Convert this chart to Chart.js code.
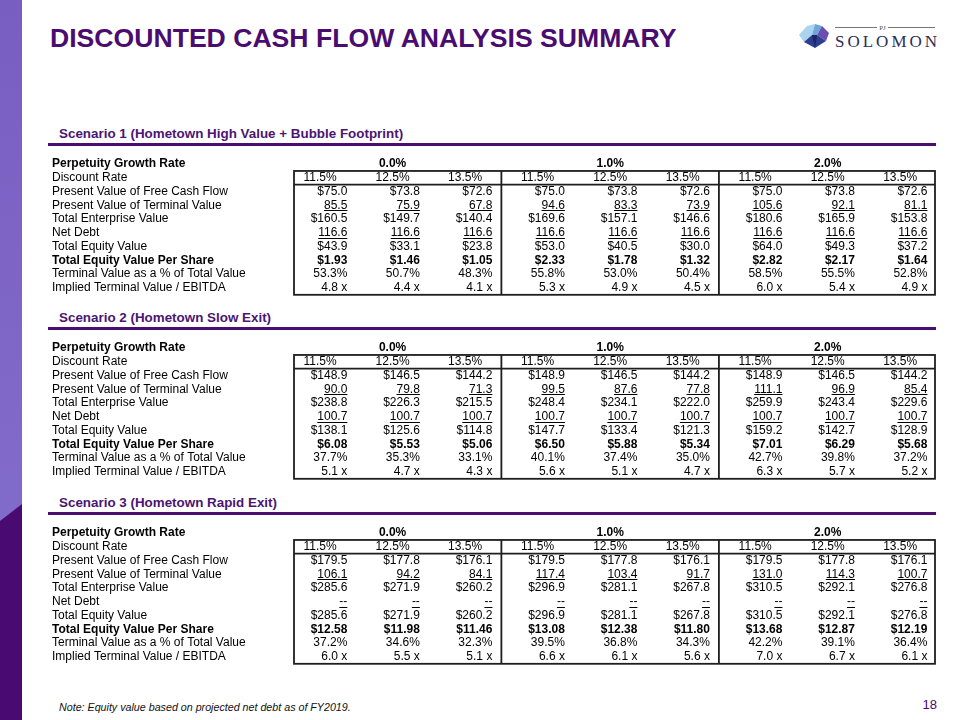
<!DOCTYPE html>
<html>
<head>
<meta charset="utf-8">
<title>Discounted Cash Flow Analysis Summary</title>
<script src="https://cdn.jsdelivr.net/npm/chart.js@4.4.1/dist/chart.umd.min.js"></script>
<style>
  html, body { margin: 0; padding: 0; background: #fff; }
  body { width: 960px; height: 720px; position: relative; overflow: hidden;
         font-family: "Liberation Sans", Arial, sans-serif; }
  .strip { position: absolute; left: 0; top: 0; }
  .title { position: absolute; left: 50px; top: 25px; font-size: 26.6px; line-height: 26px;
           font-weight: bold; color: #4b0c6f; white-space: nowrap; }
  .logo { position: absolute; left: 796px; top: 18px; }
  .heading { position: absolute; left: 59px; font-size: 13.4px; line-height: 15px;
             font-weight: bold; color: #4b1572; white-space: nowrap; }
  .rule { position: absolute; left: 48px; width: 888px; height: 3px; background: #4b0e70; }
  .table { position: absolute; left: 52px; }
  .note { position: absolute; left: 59px; top: 701px; font-size: 10.7px; line-height: 12px;
          font-style: italic; color: #111; white-space: nowrap; }
  .page { position: absolute; right: 23px; top: 697px; font-size: 13px; line-height: 15px; color: #4b0c6f; }
</style>
</head>
<body>

<svg class="strip" width="23" height="720">
  <defs>
    <linearGradient id="stripLight" x1="0" y1="0" x2="0" y2="1">
      <stop offset="0" stop-color="#795ec1"/>
      <stop offset="1" stop-color="#8470ce"/>
    </linearGradient>
  </defs>
  <rect x="0" y="0" width="22" height="720" fill="url(#stripLight)"/>
  <polygon points="0,521 22,504 22,720 0,720" fill="#4a0b70"/>
</svg>

<div class="title">DISCOUNTED CASH FLOW ANALYSIS SUMMARY</div>

<svg class="logo" width="145" height="34">
  <polygon points="3,17 11,8 19,6 16,17 8,24" fill="#a9d3ef"/>
  <polygon points="19,6 26,8 21,17 16,17" fill="#6fa6da"/>
  <polygon points="26,8 33,15 30,23 21,17" fill="#6a4fb0"/>
  <polygon points="8,24 16,17 21,17 30,23 19,30" fill="#2c3e8f"/>
  <polygon points="16,17 21,17 19,30" fill="#1f2466"/>
  <line x1="39" y1="9.5" x2="81" y2="9.5" stroke="#777" stroke-width="1"/>
  <line x1="92" y1="9.5" x2="139" y2="9.5" stroke="#777" stroke-width="1"/>
  <text x="86.5" y="12" font-size="7" fill="#555" text-anchor="middle" font-family="Liberation Serif, serif">PJ</text>
  <text x="39" y="29" font-size="17" letter-spacing="3" fill="#2b2d57" font-family="Liberation Serif, serif">SOLOMON</text>
</svg>

<div class="heading" style="top:126px">Scenario 1 (Hometown High Value + Bubble Footprint)</div>
<div class="rule" style="top:143px"></div>
<canvas class="table" id="scenario1" width="888" height="152" style="top:150px"></canvas>

<div class="heading" style="top:310px">Scenario 2 (Hometown Slow Exit)</div>
<div class="rule" style="top:327px"></div>
<canvas class="table" id="scenario2" width="888" height="152" style="top:334px"></canvas>

<div class="heading" style="top:495px">Scenario 3 (Hometown Rapid Exit)</div>
<div class="rule" style="top:512px"></div>
<canvas class="table" id="scenario3" width="888" height="152" style="top:519px"></canvas>

<div class="note">Note: Equity value based on projected net debt as of FY2019.</div>
<div class="page">18</div>

<script>
// row captions (y categories) and column headers
const rowLabels = [
    'Perpetuity Growth Rate',
    'Discount Rate',
    'Present Value of Free Cash Flow',
    'Present Value of Terminal Value',
    'Total Enterprise Value',
    'Net Debt',
    'Total Equity Value',
    'Total Equity Value Per Share',
    'Terminal Value as a % of Total Value',
    'Implied Terminal Value / EBITDA'
];
const growthRates = ['0.0%', '1.0%', '2.0%'];
const discountRates = ['11.5%', '12.5%', '13.5%'];

// Scenario 1 (Hometown High Value + Bubble Footprint)
const s1FreeCashFlow = [75.0, 73.8, 72.6, 75.0, 73.8, 72.6, 75.0, 73.8, 72.6];
const s1TerminalValue = [85.5, 75.9, 67.8, 94.6, 83.3, 73.9, 105.6, 92.1, 81.1];
const s1EnterpriseValue = [160.5, 149.7, 140.4, 169.6, 157.1, 146.6, 180.6, 165.9, 153.8];
const s1NetDebt = [116.6, 116.6, 116.6, 116.6, 116.6, 116.6, 116.6, 116.6, 116.6];
const s1EquityValue = [43.9, 33.1, 23.8, 53.0, 40.5, 30.0, 64.0, 49.3, 37.2];
const s1PerShare = [1.93, 1.46, 1.05, 2.33, 1.78, 1.32, 2.82, 2.17, 1.64];
const s1TvPercent = [53.3, 50.7, 48.3, 55.8, 53.0, 50.4, 58.5, 55.5, 52.8];
const s1Multiple = [4.8, 4.4, 4.1, 5.3, 4.9, 4.5, 6.0, 5.4, 4.9];

// Scenario 2 (Hometown Slow Exit)
const s2FreeCashFlow = [148.9, 146.5, 144.2, 148.9, 146.5, 144.2, 148.9, 146.5, 144.2];
const s2TerminalValue = [90.0, 79.8, 71.3, 99.5, 87.6, 77.8, 111.1, 96.9, 85.4];
const s2EnterpriseValue = [238.8, 226.3, 215.5, 248.4, 234.1, 222.0, 259.9, 243.4, 229.6];
const s2NetDebt = [100.7, 100.7, 100.7, 100.7, 100.7, 100.7, 100.7, 100.7, 100.7];
const s2EquityValue = [138.1, 125.6, 114.8, 147.7, 133.4, 121.3, 159.2, 142.7, 128.9];
const s2PerShare = [6.08, 5.53, 5.06, 6.50, 5.88, 5.34, 7.01, 6.29, 5.68];
const s2TvPercent = [37.7, 35.3, 33.1, 40.1, 37.4, 35.0, 42.7, 39.8, 37.2];
const s2Multiple = [5.1, 4.7, 4.3, 5.6, 5.1, 4.7, 6.3, 5.7, 5.2];

// Scenario 3 (Hometown Rapid Exit) - no net debt
const s3FreeCashFlow = [179.5, 177.8, 176.1, 179.5, 177.8, 176.1, 179.5, 177.8, 176.1];
const s3TerminalValue = [106.1, 94.2, 84.1, 117.4, 103.4, 91.7, 131.0, 114.3, 100.7];
const s3EnterpriseValue = [285.6, 271.9, 260.2, 296.9, 281.1, 267.8, 310.5, 292.1, 276.8];
const s3NetDebt = [null, null, null, null, null, null, null, null, null];
const s3EquityValue = [285.6, 271.9, 260.2, 296.9, 281.1, 267.8, 310.5, 292.1, 276.8];
const s3PerShare = [12.58, 11.98, 11.46, 13.08, 12.38, 11.80, 13.68, 12.87, 12.19];
const s3TvPercent = [37.2, 34.6, 32.3, 39.5, 36.8, 34.3, 42.2, 39.1, 36.4];
const s3Multiple = [6.0, 5.5, 5.1, 6.6, 6.1, 5.6, 7.0, 6.7, 6.1];

const FONT = '"Liberation Sans", Arial, sans-serif';
Chart.defaults.font.family = FONT;
Chart.defaults.color = '#000';

// number formats per metric row (rows 2..9)
const money1 = v => '$' + v.toFixed(1);
const plain1 = v => v == null ? '--' : v.toFixed(1);
const money2 = v => '$' + v.toFixed(2);
const pct = v => v.toFixed(1) + '%';
const mult = v => v.toFixed(1) + ' x';
const metricFormats = [money1, plain1, money1, plain1, money1, money2, pct, mult];
const underlinedRows = [3, 5];
const boldRows = [0, 7];

// draws the boxed grid and the cell text at the positions the scales give
const tablePlugin = {
    id: 'tableCells',
    beforeDatasetsDraw(chart) {
        const { ctx, chartArea, scales: { x, y } } = chart;
        const top = (y.getPixelForValue(0) + y.getPixelForValue(1)) / 2;
        const mid = (y.getPixelForValue(1) + y.getPixelForValue(2)) / 2;
        ctx.save();
        ctx.strokeStyle = '#1e1e1e';
        ctx.lineWidth = 1.8;
        ctx.strokeRect(chartArea.left, top, chartArea.right - chartArea.left, chartArea.bottom - top);
        ctx.beginPath();
        ctx.moveTo(chartArea.left, mid);
        ctx.lineTo(chartArea.right, mid);
        [2.5, 5.5].forEach(v => {
            const px = x.getPixelForValue(v);
            ctx.moveTo(px, top);
            ctx.lineTo(px, chartArea.bottom);
        });
        ctx.stroke();
        ctx.restore();
    },
    afterDatasetsDraw(chart) {
        const { ctx, scales: { x } } = chart;
        const half = (x.getPixelForValue(1) - x.getPixelForValue(0)) / 2;
        chart.data.datasets.forEach((ds, i) => {
            const meta = chart.getDatasetMeta(i);
            ctx.save();
            ctx.font = (ds.bold ? 'bold ' : '') + '12px ' + FONT;
            ctx.fillStyle = '#000';
            ctx.textBaseline = 'middle';
            meta.data.forEach((pt, j) => {
                const txt = ds.texts[j];
                let tx = pt.x;
                if (ds.align === 'right') {
                    ctx.textAlign = 'right';
                    tx = pt.x + half - 9;
                } else {
                    ctx.textAlign = 'center';
                }
                ctx.fillText(txt, tx, pt.y);
                if (ds.underline) {
                    const w = ctx.measureText(txt).width;
                    ctx.fillRect(tx - w, Math.round(pt.y + 5), w, 1);
                }
            });
            ctx.restore();
        });
    }
};

function makeTable(id, series) {
    const cols = [0, 1, 2, 3, 4, 5, 6, 7, 8];
    const datasets = [];
    datasets.push({
        data: growthRates.map((g, i) => ({ x: i * 3 + 1, y: rowLabels[0] })),
        texts: growthRates, align: 'center', bold: true
    });
    datasets.push({
        data: cols.map(c => ({ x: c, y: rowLabels[1] })),
        texts: cols.map(c => discountRates[c % 3]), align: 'center'
    });
    series.forEach((vals, k) => {
        const row = k + 2;
        datasets.push({
            data: vals.map((v, c) => ({ x: c, y: rowLabels[row] })),
            texts: vals.map(metricFormats[k]),
            align: 'right',
            bold: boldRows.includes(row),
            underline: underlinedRows.includes(row)
        });
    });
    datasets.forEach(ds => { ds.pointRadius = 0; ds.showLine = false; });

    new Chart(document.getElementById(id), {
        type: 'scatter',
        data: { datasets: datasets },
        options: {
            responsive: false,
            animation: false,
            devicePixelRatio: 1,
            layout: { padding: { left: 0, right: 5, top: 2, bottom: 2 } },
            plugins: { legend: { display: false }, tooltip: { enabled: false } },
            events: [],
            scales: {
                x: { type: 'linear', min: -0.36, max: 8.48, display: false },
                y: {
                    type: 'category',
                    labels: rowLabels,
                    offset: true,
                    grid: { display: false },
                    border: { display: false },
                    afterFit(scale) { scale.width = 242; },
                    ticks: {
                        crossAlign: 'far',
                        padding: 0,
                        color: '#000',
                        autoSkip: false,
                        font: ctx => ({ size: 12, family: FONT, weight: boldRows.includes(ctx.index) ? 'bold' : 'normal' })
                    }
                }
            }
        },
        plugins: [tablePlugin]
    });
}

makeTable('scenario1', [s1FreeCashFlow, s1TerminalValue, s1EnterpriseValue, s1NetDebt,
                        s1EquityValue, s1PerShare, s1TvPercent, s1Multiple]);
makeTable('scenario2', [s2FreeCashFlow, s2TerminalValue, s2EnterpriseValue, s2NetDebt,
                        s2EquityValue, s2PerShare, s2TvPercent, s2Multiple]);
makeTable('scenario3', [s3FreeCashFlow, s3TerminalValue, s3EnterpriseValue, s3NetDebt,
                        s3EquityValue, s3PerShare, s3TvPercent, s3Multiple]);
</script>
</body>
</html>
